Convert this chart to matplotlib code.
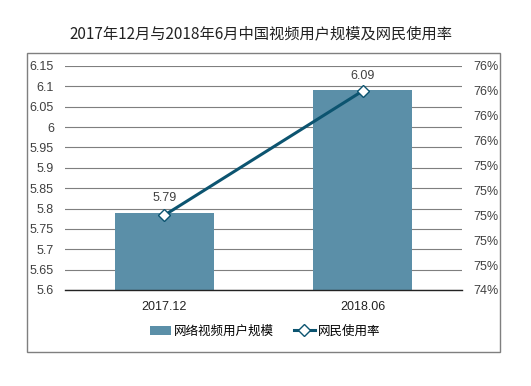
import numpy as np
import matplotlib
matplotlib.use("Agg")
import matplotlib.pyplot as plt
from matplotlib.patches import Rectangle
from matplotlib.ticker import FixedLocator, FuncFormatter

plt.rcParams["font.family"] = ["Liberation Sans", "Noto Sans CJK SC", "DejaVu Sans"]

# data
periods = ["2017.12", "2018.06"]
users = [5.79, 6.09]          # 网络视频用户规模 (亿)
usage_rate = [75.0, 76.0]     # 网民使用率 (%)

left_ticks = np.round(np.arange(5.60, 6.151, 0.05), 2)
right_ticks = np.round(np.arange(74.4, 76.21, 0.2), 1)

bar_color = "#5b8fa8"
line_color = "#0c5470"
text_color = "#404040"

fig = plt.figure(figsize=(5.31, 3.86), dpi=100)
ax = fig.add_axes([65 / 531, 1 - 290 / 386, 397 / 531, 224 / 386])

# outer frame
fig.patches.append(Rectangle((27 / 531, 1 - 352 / 386), 473 / 531, 299 / 386,
                             transform=fig.transFigure, fill=False,
                             edgecolor="#7f7f7f", linewidth=1.0))

x = np.arange(len(periods))
ax.bar(x, users, width=0.5, color=bar_color, zorder=2, label="网络视频用户规模")
for xi, v in zip(x, users):
    ax.text(xi, v + 0.02, f"{v:.2f}", ha="center", va="bottom",
            fontsize=9, color=text_color)

ax.set_xlim(-0.5, 1.5)
ax.set_ylim(5.6, 6.15)
ax.yaxis.set_major_locator(FixedLocator(left_ticks))
ax.yaxis.set_major_formatter(FuncFormatter(lambda v, p: f"{v:g}"))
ax.set_xticks(x)
ax.set_xticklabels(periods)
ax.grid(axis="y", color="#7f7f7f", linewidth=0.8, zorder=0)
ax.set_axisbelow(True)
for s in ("top", "left", "right"):
    ax.spines[s].set_visible(False)
ax.spines["bottom"].set_color("#222222")
ax.spines["bottom"].set_linewidth(1.0)
ax.tick_params(axis="y", length=0, labelsize=9, labelcolor=text_color, pad=8)
ax.tick_params(axis="x", length=0, labelsize=9, labelcolor="#222222", pad=8)

ax2 = ax.twinx()
ax2.plot(x, usage_rate, color=line_color, linewidth=2.2, marker="D",
         markersize=6.5, markerfacecolor="white", markeredgecolor=line_color,
         markeredgewidth=1.0, zorder=3, label="网民使用率")
ax2.set_ylim(74.4, 76.2)
ax2.yaxis.set_major_locator(FixedLocator(right_ticks))
ax2.yaxis.set_major_formatter(FuncFormatter(lambda v, p: f"{v:.0f}%"))
for s in ("top", "left", "right", "bottom"):
    ax2.spines[s].set_visible(False)
ax2.tick_params(axis="y", length=0, labelsize=9, labelcolor=text_color, pad=8)

h1, l1 = ax.get_legend_handles_labels()
h2, l2 = ax2.get_legend_handles_labels()
fig.legend(h1 + h2, l1 + l2, loc="center", bbox_to_anchor=(265 / 531, 1 - 331 / 386),
           ncol=2, frameon=False, handlelength=1.7, handletextpad=0.2,
           columnspacing=1.6, prop={"family": ["Noto Sans CJK SC"], "size": 9})

fig.text(261 / 531, 1 - 34 / 386, "2017年12月与2018年6月中国视频用户规模及网民使用率",
         ha="center", va="center", fontsize=11, color="#222222", fontweight="light",
         family=["Noto Sans CJK SC", "DejaVu Sans"])

fig.savefig("out.png", dpi=100)
